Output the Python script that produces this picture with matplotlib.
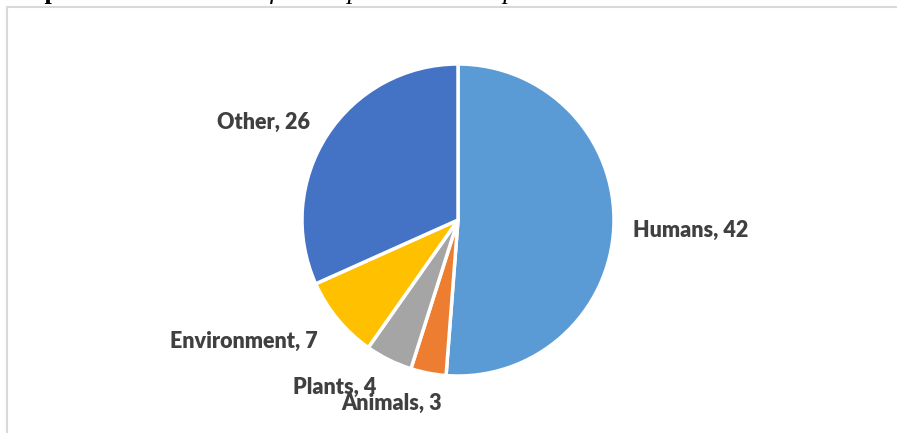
import matplotlib

matplotlib.use("Agg")
import matplotlib.pyplot as plt
from matplotlib.patches import Rectangle

categories = ["Humans", "Animals", "Plants", "Environment", "Other"]
counts = [42, 3, 4, 7, 26]
colors = ["#5B9BD5", "#ED7D31", "#A5A5A5", "#FFC000", "#4472C4"]
# label centres in pie-radius units (Excel "best fit" placement)
label_xy = [(1.49, -0.064), (-0.423, -1.173), (-0.788, -1.071), (-1.372, -0.776), (-1.244, 0.628)]

W, H = 897, 433
cx, cy, r = 458, 220, 156

fig = plt.figure(figsize=(W / 100, H / 100), dpi=100)
ax = fig.add_axes([0, 0, 1, 1])
ax.pie(counts, colors=colors, startangle=90, counterclock=False, radius=1,
       wedgeprops={"edgecolor": "white", "linewidth": 2.5})
ax.set_xlim(-cx / r, (W - cx) / r)
ax.set_ylim((cy - H) / r, cy / r)
ax.set_aspect("equal")
ax.axis("off")

for name, value, (x, y) in zip(categories, counts, label_xy):
    ax.text(x, y, f"{name}, {value}", ha="center", va="center", fontsize=15.5,
            fontweight="heavy", color="#404040", family="Lato")

# chart frame, cut by the image edges on the right and bottom
fig.patches.append(Rectangle((7 / W, -0.05), 1.1, 1 - 7 / H + 0.05, transform=fig.transFigure,
                             fill=False, edgecolor="#D9D9D9", linewidth=1.5))

# caption above the chart, mostly cropped off
fig.text(0.0, 1 + 1 / H, "Grap", fontsize=19, fontweight="bold", family="Liberation Serif",
         va="baseline", ha="left")
fig.text(72 / W, 1 + 1 / H, "h 1: Distribution of cases per the data reported studies",
         fontsize=19, style="italic", family="Liberation Serif", va="baseline", ha="left")

fig.savefig("out.png", dpi=100)
